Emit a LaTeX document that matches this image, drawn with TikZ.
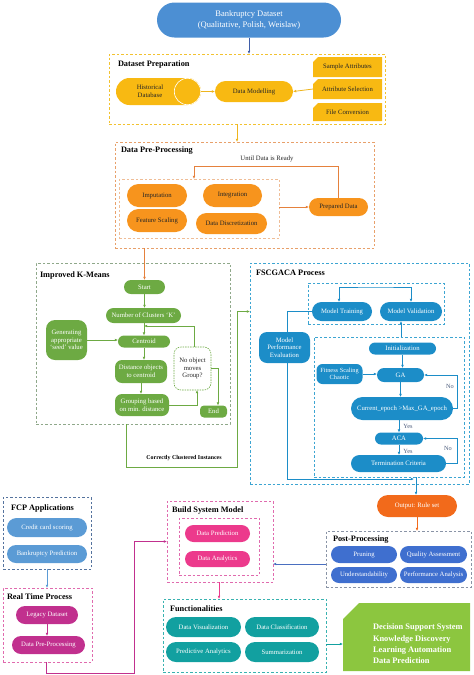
\documentclass[tikz,border=0pt]{standalone}
\usepackage{fontspec}
\setmainfont{Liberation Serif}
\usetikzlibrary{shapes.misc,arrows.meta,calc}
\definecolor{cDark}{HTML}{262626}
\definecolor{cBlueTop}{HTML}{4C8FD3}
\definecolor{cArrowBlue}{HTML}{3F5DA8}
\definecolor{cYel}{HTML}{F8B912}
\definecolor{cYelLine}{HTML}{F2C230}
\definecolor{cYelArrow}{HTML}{EEB51E}
\definecolor{cOra}{HTML}{F7941D}
\definecolor{cOraLine}{HTML}{E8A06A}
\definecolor{cOraArrow}{HTML}{E5813D}
\definecolor{cGrn}{HTML}{6DAA43}
\definecolor{cGrnLine}{HTML}{8FA88A}
\definecolor{cBlu}{HTML}{1C8DC8}
\definecolor{cBluLine}{HTML}{3DA5D2}
\definecolor{cFcp}{HTML}{5B9BD5}
\definecolor{cFcpLine}{HTML}{55739E}
\definecolor{cMag}{HTML}{C1308E}
\definecolor{cMagLine}{HTML}{E06AAE}
\definecolor{cPink}{HTML}{EC3A8C}
\definecolor{cTeal}{HTML}{12A0A0}
\definecolor{cTealLine}{HTML}{38B2B0}
\definecolor{cPost}{HTML}{3F6FCF}
\definecolor{cPostLine}{HTML}{8A94A6}
\definecolor{cPostArrow}{HTML}{4A6FC0}
\definecolor{cOut}{HTML}{F26A1B}
\definecolor{cLime}{HTML}{8CC63F}
\definecolor{cLabel}{HTML}{4A5A7A}
\begin{document}
\begin{tikzpicture}[x=1pt,y=-1pt,
  every node/.style={inner sep=0pt, outer sep=0pt, font=\fontsize{6.7}{7.6}\selectfont, align=center},
  sz/.style 2 args={minimum width=#1, minimum height=#2},
  pill/.style={rounded rectangle},
  frame/.style={draw=#1, dash pattern=on 2.5pt off 2pt, line width=0.65pt, rectangle},
  ttl/.style={anchor=west, font=\fontsize{8.3}{9}\selectfont\bfseries},
  yn/.style={text=cLabel, font=\fontsize{6.3}{7}\selectfont},
  arr/.style={draw=#1, line width=0.8pt, -{Latex[length=3.2pt,width=2.8pt]}},
  arrtwo/.style={draw=#1, line width=0.8pt, {Latex[length=3.2pt,width=2.8pt]}-{Latex[length=3.2pt,width=2.8pt]}}
]
\useasboundingbox (0,0) rectangle (474,675);

% ---------- top ----------
\node[pill, sz={184}{35}, fill=cBlueTop, text=white, font=\fontsize{8.5}{11}\selectfont] (bd) at (249,20) {Bankruptcy Dataset\\(Qualitative, Polish, Weislaw)};

% ---------- dataset preparation ----------
\node[frame=cYelLine, sz={276}{70}] (dpbox) at (247,89) {};
\node[ttl] (dpt) at (118,65) {Dataset Preparation};
\node[pill, sz={85}{27}, fill=cYel] (hd) at (158.5,91.5) {};
\draw[white, fill=cYel, line width=0.6pt] ([xshift=-13.5pt]hd.east) circle[radius=13.2pt];
\node[text=cDark] (hdt) at (150,91.5) {Historical\\Database};
\node[pill, sz={78}{21}, fill=cYel, text=cDark] (dm) at (254,91.5) {Data Modelling};
\fill[cYel] (313,77) -- (313,62) -- (318,57) -- (382,57) -- (382,77) -- cycle;
\fill[cYel] (313,99) -- (313,84) -- (318,79) -- (382,79) -- (382,99) -- cycle;
\fill[cYel] (313,121) -- (313,108) -- (318,103) -- (382,103) -- (382,121) -- cycle;
\node[sz={69}{20}, text=cDark] (sa) at (347.5,67) {Sample Attributes};
\node[sz={69}{20}, text=cDark] (as) at (347.5,89) {Attribute Selection};
\node[sz={69}{18}, text=cDark] (fc) at (347.5,112) {File Conversion};

% ---------- data pre-processing ----------
\node[frame=cOraLine, sz={259}{106}] (pp) at (244.5,195) {};
\node[ttl] (ppt) at (121,151) {Data Pre-Processing};
\node[text=cDark] (udr) at (267,159) {Until Data is Ready};
\node[frame=cOraLine!70, sz={160}{59}] (ppin) at (199,208.5) {};
\node[pill, sz={60}{23}, fill=cOra, text=cDark] (imp) at (157,195.5) {Imputation};
\node[pill, sz={59}{23}, fill=cOra, text=cDark] (integ) at (232.5,195.5) {Integration};
\node[pill, sz={60}{23}, fill=cOra, text=cDark] (fs) at (157,220.5) {Feature Scaling};
\node[pill, sz={71}{21}, fill=cOra, text=cDark] (dd) at (231.5,223.5) {Data Discretization};
\node[pill, sz={59}{18}, fill=cOra, text=cDark] (prep) at (338.5,207) {Prepared Data};

% ---------- improved k-means ----------
\node[frame=cGrnLine, sz={194}{161}] (km) at (133,343.5) {};
\node[ttl] (kmt) at (40,275) {Improved K-Means};
\node[pill, sz={41}{14}, fill=cGrn, text=white] (start) at (144.5,287) {Start};
\node[pill, sz={75}{15}, fill=cGrn, text=white] (nck) at (143.5,315.5) {Number of Clusters `K'};
\node[pill, sz={52}{12}, fill=cGrn, text=white] (cen) at (144,341.5) {Centroid};
\node[rectangle, rounded corners=9pt, sz={41}{40}, fill=cGrn, text=white] (seed) at (66.5,340) {Generating\\appropriate\\`seed' value};
\node[rectangle, rounded corners=7pt, sz={52}{23}, fill=cGrn, text=white] (dist) at (141,371.5) {Distance objects\\to centroid};
\node[rectangle, rounded corners=7pt, sz={54}{22}, fill=cGrn, text=white] (grp) at (142,405) {Grouping based\\on min. distance};
\node[rectangle, rounded corners=7pt, draw=cGrn, line width=0.6pt, dash pattern=on 1.5pt off 1pt, fill=white, sz={37}{43}, text=cDark] (nom) at (192.5,368.5) {No object\\moves\\Group?};
\node[rectangle, rounded corners=4pt, sz={27}{12}, fill=cGrn, text=white] (endn) at (213.5,411.5) {End};
\node[font=\fontsize{5.9}{7}\selectfont\bfseries] (cci) at (184,458) {Correctly Clustered Instances};

% ---------- FSCGACA ----------
\node[frame=cBluLine, sz={219}{221}] (fsc) at (359.5,373.5) {};
\node[ttl] (fsct) at (256,273) {FSCGACA Process};
\node[frame=cBluLine, sz={136}{41}] (ub) at (376,303.5) {};
\node[pill, sz={60}{19}, fill=cBlu, text=white] (mt) at (342,311.5) {Model Training};
\node[pill, sz={62}{19}, fill=cBlu, text=white] (mv) at (411,311.5) {Model Validation};
\node[rectangle, rounded corners=8pt, sz={51}{31}, fill=cBlu, text=white] (mpe) at (284.5,347.5) {Model\\Performance\\Evaluation};
\node[frame=cBluLine, sz={150}{140}] (lb) at (389,407) {};
\node[pill, sz={67}{12}, fill=cBlu, text=white] (init) at (402.5,348.5) {Initialization};
\node[pill, sz={47}{14}, fill=cBlu, text=white] (ga) at (400.5,375) {GA};
\node[rectangle, rounded corners=6pt, sz={46}{20}, fill=cBlu, text=white, font=\fontsize{6.3}{7.4}\selectfont] (fsch) at (339.5,374) {Fitness Scaling\\Chaotic};
\node[pill, sz={102}{23}, fill=cBlu, text=white] (cur) at (402,408.5) {Current\_epoch >Max\_GA\_epoch};
\node[pill, sz={48}{12}, fill=cBlu, text=white] (aca) at (399,438.5) {ACA};
\node[pill, sz={95}{17}, fill=cBlu, text=white] (tc) at (398.5,463.5) {Termination Criteria};
\node[yn] (y1) at (408,426) {Yes};
\node[yn] (y2) at (408,451) {Yes};
\node[yn] (n1) at (450,386) {No};
\node[yn] (n2) at (448,448) {No};

% ---------- output & post-processing ----------
\node[pill, sz={80}{22}, fill=cOut, text=white] (out) at (417,506) {Output: Rule set};
\node[frame=cPostLine, sz={145}{56}] (post) at (398.5,559) {};
\node[ttl] (postt) at (333,540) {Post-Processing};
\node[pill, sz={66}{17}, fill=cPost, text=white] (pr) at (364,554.5) {Pruning};
\node[pill, sz={67}{17}, fill=cPost, text=white] (qa) at (433.5,554.5) {Quality Assessment};
\node[pill, sz={66}{16}, fill=cPost, text=white] (un) at (364,575) {Understandability};
\node[pill, sz={67}{16}, fill=cPost, text=white] (pa) at (433.5,575) {Performance Analysis};

% ---------- FCP applications ----------
\node[frame=cFcpLine, sz={88}{72}] (fcp) at (47,533) {};
\node[ttl] (fcpt) at (11,508) {FCP Applications};
\node[pill, sz={80}{19}, fill=cFcp, text=white] (ccs) at (47,527.5) {Credit card scoring};
\node[pill, sz={80}{18}, fill=cFcp, text=white] (bp) at (47,554) {Bankruptcy Prediction};

% ---------- real time process ----------
\node[frame=cMagLine, sz={89}{74}] (rt) at (47.5,625) {};
\node[ttl] (rtt) at (7,597) {Real Time Process};
\node[pill, sz={62}{18}, fill=cMag, text=white] (ld) at (47,615) {Legacy Dataset};
\node[pill, sz={73}{18}, fill=cMag, text=white] (dpp) at (48.5,645) {Data Pre-Processing};

% ---------- build system model ----------
\node[frame=cMagLine, sz={106}{81}] (bsm) at (220,541.5) {};
\node[ttl] (bsmt) at (172,511) {Build System Model};
\node[frame=cMagLine, sz={80}{57}] (bin) at (219,546.5) {};
\node[pill, sz={65}{17}, fill=cPink, text=white] (dpred) at (217.5,533.5) {Data Prediction};
\node[pill, sz={65}{16}, fill=cPink, text=white] (dan) at (217.5,559) {Data Analytics};

% ---------- functionalities ----------
\node[frame=cTealLine, sz={163}{73}] (func) at (244.5,635.5) {};
\node[ttl] (funct) at (170,609) {Functionalities};
\node[pill, sz={75}{20}, fill=cTeal, text=white] (dv) at (203.5,627) {Data Visualization};
\node[pill, sz={74}{20}, fill=cTeal, text=white] (dc) at (282,627) {Data Classification};
\node[pill, sz={75}{20}, fill=cTeal, text=white] (pan) at (203.5,652) {Predictive Analytics};
\node[pill, sz={74}{20}, fill=cTeal, text=white] (sm) at (282,652) {Summarization};

% ---------- green outcome box ----------
\fill[cLime] (343,671) -- (343,619) -- (359,603) -- (470,603) -- (470,671) -- cycle;
\node[sz={127}{68}] (gb) at (406.5,637) {};
\node[anchor=west, align=left, text=white, font=\fontsize{8.4}{11.3}\selectfont\bfseries] (gbt) at (373,644) {Decision Support System\\Knowledge Discovery\\Learning Automation\\Data Prediction};

% ---------- connectors ----------
\draw[arr=cArrowBlue] (bd.south) -- (bd.south |- dpbox.north);
\draw[arr=cYelArrow] (hd.east) -- (dm.west);
\draw[arr=cYelArrow] (as.west) -- (dm.east);
\draw[arr=cYelArrow] ([xshift=-10pt]dpbox.south) -- ([xshift=-10pt]dpbox.south |- pp.north);

\draw[arr=cOraArrow] (prep.west -| ppin.east) -- (prep.west);
\coordinate (fb) at (194,166);
\draw[arr=cOraArrow] (prep.north) |- (fb) -- (fb |- ppin.north);
\draw[arr=cOraArrow] (start.north |- pp.south) -- (start.north);

\coordinate (cj) at (144,326);
\draw[arr=cGrn] (start.south) -- (start.south |- nck.north);
\draw[arr=cGrn] (cen.north |- nck.south) -- (cen.north);
\draw[arr=cGrn] (seed.east) -- (seed.east -| cen.west);
\draw[arr=cGrn] (cen.south) -- (cen.south |- dist.north);
\draw[arr=cGrn] (dist.south) -- (dist.south |- grp.north);
\draw[arr=cGrn] (grp.east) -| ([xshift=4.5pt]nom.south);
\draw[arr=cGrn] ([xshift=1.5pt]nom.north) |- (cen.north |- cj);
\draw[arr=cGrn] (nom.east) -| ([xshift=4.5pt]endn.north);
\coordinate (ccr) at (237,467);
\draw[arr=cGrn] ([xshift=-7pt]km.south) |- (ccr) |- (fsc.west |- mt);

\coordinate (ubt) at (376,287);
\draw[arrtwo=cBlu] ([xshift=-3pt]mt.north) |- (ubt) -| (mv.north);
\draw[cBlu, line width=0.8pt] (mt.west) -| ([xshift=2.5pt]mpe.north);
\coordinate (j) at (414,479);
\draw[arr=cBlu] ([xshift=2.5pt]mpe.south) |- (j);
\draw[arr=cBlu] ([xshift=-1pt]out.north |- lb.south) -- ([xshift=-1pt]out.north);
\draw[arr=cBlu] ([xshift=-10pt]mv.south |- lb.north) -- ([xshift=-10pt]mv.south);
\draw[arr=cBlu] (init.south) -- (init.south |- ga.north);
\draw[arr=cBlu] (fsch.east) -- (fsch.east -| ga.west);
\draw[arr=cBlu] (ga.south) -- (ga.south |- cur.north);
\draw[arr=cBlu] (cur.east) -- ++(4,0) |- (ga.east);
\draw[arr=cBlu] (aca.north |- cur.south) -- (aca.north);
\draw[arr=cBlu] (aca.south) -- (aca.south |- tc.north);
\draw[arr=cBlu] (tc.east) -- ++(11,0) |- (aca.east);

\draw[arr=cOut] (out.south) -- (out.south |- post.north);
\draw[arr=cPostArrow] ([yshift=-5pt]post.west) -- ([yshift=-5pt]post.west -| bsm.east);

\draw[arr=cFcp] (fcp.south) -- (fcp.south |- rt.north);
\draw[arr=cMag] (ld.south) -- (ld.south |- dpp.north);
\coordinate (m1) at (134,673);
\draw[arr=cMag] ([xshift=-1.5pt]rt.south) |- (m1) |- (bsm.west);
\draw[arr=cPink] ([xshift=-1pt]bsm.south) -- ([xshift=-1pt]bsm.south |- func.north);
\draw[arr=cTeal] ([yshift=-8.5pt]func.east) -- ([yshift=-8.5pt]func.east -| gb.west);
\end{tikzpicture}
\end{document}
